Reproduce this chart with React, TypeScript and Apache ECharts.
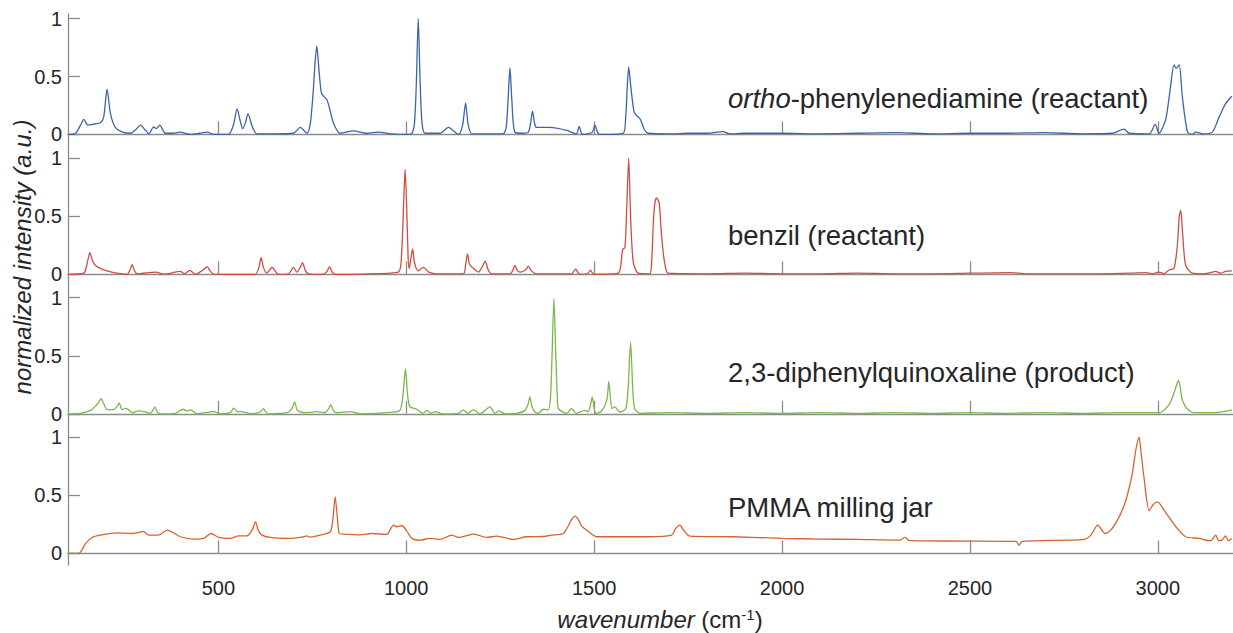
import React, { useEffect, useRef } from "react";
import * as echarts from "echarts";

// ---------- data ----------
const xTickValues = [500, 1000, 1500, 2000, 2500, 3000];
const yTickValues = [0, 0.5, 1];
const panelLabels = [
  "{i|ortho}-phenylenediamine (reactant)",
  "benzil (reactant)",
  "2,3-diphenylquinoxaline (product)",
  "PMMA milling jar",
];
const seriesNames = ["ortho-phenylenediamine", "benzil", "2,3-diphenylquinoxaline", "PMMA"];

const opdSpectrum: [number, number][] = [
  [101,0],[120,0.01],[135,0.09],[142,0.13],[153,0.08],[170,0.09],[186,0.1],[195,0.15],[204,0.39],[213,0.18],
  [226,0.06],[245,0.02],[266,0.01],[280,0.04],[293,0.08],[305,0.04],[315,0.005],[328,0.065],[335,0.05],[344,0.08],
  [359,0.01],[380,0.01],[399,0.02],[426,0],[450,0.01],[470,0.02],[488,0],[527,0],[540,0.08],[550,0.22],
  [558,0.12],[565,0.05],[572,0.1],[579,0.18],[590,0.07],[603,0.005],[650,0.005],[700,0.01],[718,0.06],[736,0.01],
  [745,0.1],[752,0.35],[757,0.6],[762,0.765],[768,0.55],[774,0.36],[780,0.33],[789,0.3],[798,0.2],[806,0.1],
  [824,0.01],[860,0.03],[895,0.01],[926,0.02],[960,0.005],[1001,0],[1015,0.01],[1022,0.1],[1027,0.45],[1032,1.0],
  [1037,0.45],[1042,0.1],[1050,0.01],[1090,0.01],[1112,0.06],[1139,0],[1150,0.08],[1158,0.27],[1165,0.08],[1175,0.005],
  [1220,0.005],[1258,0.005],[1266,0.06],[1271,0.3],[1276,0.576],[1281,0.3],[1289,0.02],[1310,0.01],[1325,0.02],[1331,0.1],
  [1336,0.2],[1342,0.09],[1347,0.06],[1382,0.06],[1427,0.035],[1453,0.005],[1460,0.07],[1467,0.005],[1475,0],[1495,0.02],
  [1502,0.08],[1509,0.02],[1515,0],[1577,0.01],[1584,0.15],[1588,0.4],[1592,0.58],[1598,0.4],[1606,0.2],[1613,0.164],
  [1623,0.13],[1634,0.04],[1644,0.01],[1700,0.005],[1750,0.01],[1800,0.01],[1843,0.025],[1860,0.005],[1900,0.01],[2000,0.01],
  [2100,0.005],[2200,0.01],[2308,0.015],[2400,0.005],[2500,0.01],[2600,0.01],[2700,0.015],[2800,0.005],[2880,0.01],[2910,0.045],
  [2924,0.01],[2977,0.005],[2993,0.086],[3003,0.01],[3021,0.13],[3034,0.42],[3043,0.6],[3049,0.57],[3057,0.6],[3065,0.33],
  [3079,0.02],[3092,0],[3101,0.02],[3120,0.005],[3145,0.02],[3163,0.15],[3181,0.27],[3197,0.33],
];

const benzilSpectrum: [number, number][] = [
  [101,0],[142,0.01],[150,0.08],[158,0.186],[165,0.12],[173,0.077],[190,0.045],[204,0.03],[230,0.01],[257,0],
  [265,0.04],[271,0.083],[277,0.03],[284,0.005],[333,0.02],[355,0],[399,0.025],[410,0.005],[424,0.035],[439,0],
  [460,0.04],[470,0.066],[478,0.03],[488,0],[598,0],[608,0.06],[614,0.143],[620,0.06],[629,0.01],[643,0.06],
  [660,0],[687,0.005],[700,0.06],[709,0.02],[718,0.06],[724,0.1],[732,0.03],[740,0.005],[780,0],[790,0.03],
  [796,0.066],[803,0.02],[811,0],[900,0.005],[979,0.02],[988,0.2],[993,0.6],[997,0.906],[1001,0.6],[1005,0.15],
  [1008,0.05],[1013,0.15],[1017,0.22],[1022,0.1],[1032,0.03],[1046,0.06],[1060,0.02],[1081,0.005],[1152,0.005],[1158,0.08],
  [1163,0.177],[1168,0.09],[1174,0.066],[1192,0.02],[1203,0.07],[1210,0.114],[1218,0.04],[1227,0.005],[1276,0.005],[1283,0.03],
  [1289,0.077],[1296,0.03],[1304,0.02],[1318,0.04],[1325,0.071],[1333,0.03],[1347,0.005],[1440,0.005],[1451,0.046],[1458,0.01],
  [1467,0],[1484,0.01],[1490,0.037],[1496,0.01],[1502,0],[1564,0.01],[1576,0.214],[1582,0.23],[1586,0.5],[1592,1.0],
  [1597,0.5],[1604,0.11],[1617,0.01],[1648,0.005],[1653,0.1],[1657,0.41],[1661,0.6],[1666,0.657],[1673,0.615],[1678,0.4],
  [1683,0.21],[1690,0.06],[1697,0.01],[1800,0.005],[1900,0.01],[2000,0.005],[2100,0.005],[2200,0.01],[2300,0.005],[2400,0.005],
  [2500,0.01],[2609,0.015],[2650,0.005],[2750,0.005],[2850,0.005],[2930,0.01],[2967,0.015],[2986,0.005],[3003,0.02],[3016,0.005],
  [3031,0.04],[3043,0.05],[3052,0.25],[3057,0.5],[3061,0.55],[3066,0.35],[3074,0.08],[3092,0.01],[3119,0.005],[3140,0.015],
  [3154,0.025],[3167,0.01],[3180,0.025],[3197,0.03],
];

const quinoxalineSpectrum: [number, number][] = [
  [101,0],[132,0.005],[160,0.03],[173,0.066],[182,0.1],[188,0.13],[195,0.09],[204,0.037],[222,0.037],[230,0.06],
  [236,0.094],[244,0.037],[255,0.048],[271,0.01],[288,0.025],[302,0.02],[319,0.005],[326,0.03],[331,0.06],[337,0.02],
  [346,0],[386,0.005],[406,0.04],[417,0.025],[427,0.035],[443,0],[488,0.02],[505,0],[532,0.01],[541,0.05],
  [551,0.02],[563,0.02],[585,0],[613,0.02],[620,0.045],[627,0.015],[634,0],[683,0.01],[695,0.04],[703,0.1],
  [709,0.04],[716,0.02],[736,0.01],[762,0.02],[784,0.01],[793,0.04],[799,0.08],[806,0.03],[813,0.01],[851,0.02],
  [878,0],[966,0.015],[984,0.035],[991,0.15],[998,0.385],[1004,0.15],[1010,0.06],[1028,0.04],[1044,0.005],[1056,0.03],
  [1065,0.005],[1077,0.02],[1095,0],[1139,0.005],[1152,0.035],[1164,0.005],[1179,0.035],[1196,0],[1223,0.06],[1236,0.005],
  [1247,0.025],[1263,0],[1294,0.005],[1316,0.03],[1324,0.08],[1329,0.145],[1334,0.07],[1340,0.025],[1351,0.005],[1365,0.04],
  [1378,0.035],[1384,0.15],[1388,0.5],[1393,0.99],[1398,0.5],[1402,0.15],[1405,0.045],[1427,0.005],[1440,0.045],[1453,0.005],
  [1475,0.03],[1484,0.02],[1490,0.07],[1495,0.145],[1500,0.05],[1505,0.005],[1520,0.025],[1534,0.12],[1539,0.28],[1544,0.12],
  [1548,0.045],[1555,0.06],[1568,0.015],[1584,0.045],[1590,0.2],[1597,0.615],[1603,0.2],[1608,0.045],[1622,0.005],[1700,0.01],
  [1800,0.005],[1900,0.01],[2000,0.005],[2100,0.01],[2200,0.005],[2300,0.01],[2400,0.005],[2500,0.01],[2600,0.005],[2700,0.01],
  [2800,0.005],[2900,0.01],[3003,0.01],[3030,0.08],[3043,0.18],[3050,0.25],[3055,0.287],[3060,0.22],[3065,0.12],[3079,0.04],
  [3097,0.01],[3144,0.01],[3175,0.02],[3197,0.035],
];

const pmmaSpectrum: [number, number][] = [
  [101,0],[129,0],[137,0.03],[147,0.086],[164,0.137],[186,0.157],[231,0.177],[271,0.171],[290,0.18],[300,0.19],
  [315,0.157],[341,0.157],[364,0.2],[399,0.143],[434,0.123],[461,0.129],[481,0.171],[501,0.137],[532,0.129],[554,0.151],
  [576,0.151],[590,0.2],[599,0.271],[606,0.2],[616,0.157],[638,0.137],[691,0.129],[727,0.143],[735,0.15],[745,0.14],
  [771,0.157],[798,0.186],[805,0.3],[811,0.486],[817,0.3],[822,0.171],[833,0.166],[877,0.16],[908,0.171],[948,0.163],
  [966,0.243],[975,0.229],[988,0.24],[1000,0.2],[1015,0.129],[1037,0.114],[1063,0.129],[1090,0.12],[1121,0.157],[1139,0.137],
  [1156,0.149],[1180,0.166],[1214,0.137],[1241,0.149],[1285,0.12],[1320,0.143],[1365,0.145],[1387,0.157],[1418,0.171],[1440,0.29],
  [1449,0.32],[1458,0.29],[1467,0.234],[1484,0.19],[1506,0.143],[1551,0.143],[1639,0.143],[1706,0.157],[1718,0.22],[1728,0.243],
  [1738,0.2],[1754,0.149],[1870,0.143],[2002,0.129],[2100,0.123],[2200,0.12],[2313,0.114],[2328,0.137],[2339,0.109],[2490,0.106],
  [2623,0.103],[2630,0.071],[2639,0.103],[2760,0.114],[2804,0.12],[2822,0.157],[2840,0.243],[2860,0.171],[2875,0.2],[2897,0.314],
  [2915,0.457],[2932,0.686],[2942,0.9],[2950,1.0],[2956,0.85],[2963,0.657],[2977,0.366],[2988,0.42],[2999,0.443],[3017,0.37],
  [3048,0.229],[3074,0.143],[3110,0.129],[3125,0.115],[3141,0.109],[3154,0.157],[3162,0.11],[3171,0.114],[3180,0.15],[3188,0.11],
  [3197,0.129],
];

const spectra = [opdSpectrum, benzilSpectrum, quinoxalineSpectrum, pmmaSpectrum];

// ---------- styling ----------
const FONT = '"Liberation Sans", Arial, Helvetica, sans-serif';
const TEXT = "#262626";
const AXIS = "#8c8c8c";
const lineColors = ["#3d63ab", "#cf4d40", "#78b948", "#d6632f"];
const gridTops = [14, 146.5, 286, 425.5];
const gridHeights = [132, 139.5, 139.5, 139.5];
const yMaxes = [1.04, 1.1, 1.1, 1.1];
const labelCentersY = [98, 235, 372, 507];

export default function App() {
  const ref = useRef<HTMLDivElement>(null);

  useEffect(() => {
    if (!ref.current) return;
    const chart = echarts.init(ref.current, undefined, { renderer: "svg" });

    const grids = gridTops.map((top, i) => ({
      left: 68,
      width: 1167,
      top,
      height: gridHeights[i],
      containLabel: false,
    }));

    const xAxes = gridTops.map((_, i) => ({
      type: "value",
      gridIndex: i,
      min: 100,
      max: 3200,
      axisLine: { show: true, lineStyle: { color: AXIS, width: 1.3 } },
      axisTick: {
        show: true,
        inside: true,
        length: 13,
        customValues: xTickValues,
        lineStyle: { color: AXIS, width: 1.3 },
      },
      axisLabel: {
        show: i === 3,
        customValues: xTickValues,
        fontSize: 20,
        color: TEXT,
        fontFamily: FONT,
        margin: 13,
        formatter: (v: number) => String(v),
      },
      splitLine: { show: false },
    }));

    const yAxes = gridTops.map((_, i) => ({
      type: "value",
      gridIndex: i,
      min: -0.1,
      max: yMaxes[i],
      axisLine: { show: true, lineStyle: { color: AXIS, width: 1.3 } },
      axisTick: {
        show: true,
        inside: true,
        length: 12,
        customValues: yTickValues,
        lineStyle: { color: AXIS, width: 1.3 },
      },
      axisLabel: {
        show: true,
        customValues: yTickValues,
        fontSize: 20,
        color: TEXT,
        fontFamily: FONT,
        margin: 6,
        formatter: (v: number) => String(v),
      },
      splitLine: { show: false },
    }));

    const series = spectra.map((data, i) => ({
      name: seriesNames[i],
      type: "line",
      xAxisIndex: i,
      yAxisIndex: i,
      data,
      showSymbol: false,
      symbol: "none",
      smooth: 0.25,
      lineStyle: { color: lineColors[i], width: 1.3 },
      itemStyle: { color: lineColors[i] },
      silent: true,
    }));

    const labelGraphics = panelLabels.map((t, i) => ({
      type: "text",
      x: 728,
      y: labelCentersY[i],
      style: {
        text: t,
        font: `27.5px ${FONT}`,
        fill: TEXT,
        textAlign: "left",
        textVerticalAlign: "middle",
        rich: {
          i: { font: `italic 27.5px ${FONT}`, fill: TEXT },
        },
      },
    }));

    chart.setOption({
      animation: false,
      backgroundColor: "#ffffff",
      grid: grids,
      xAxis: xAxes,
      yAxis: yAxes,
      series,
      graphic: [
        ...labelGraphics,
        {
          type: "text",
          x: 22,
          y: 257,
          rotation: Math.PI / 2,
          style: {
            text: "normalized intensity (a.u.)",
            font: `italic 24px ${FONT}`,
            fill: TEXT,
            textAlign: "center",
            textVerticalAlign: "middle",
          },
        },
        {
          type: "text",
          x: 660,
          y: 619,
          style: {
            text: "{i|wavenumber} (cm{s|-1})",
            font: `24px ${FONT}`,
            fill: TEXT,
            textAlign: "center",
            textVerticalAlign: "middle",
            rich: {
              i: { font: `italic 24px ${FONT}`, fill: TEXT },
              s: { font: `15px ${FONT}`, fill: TEXT, verticalAlign: "top" },
            },
          },
        },
      ],
    });

    return () => chart.dispose();
  }, []);

  return (
    <div
      ref={ref}
      style={{ position: "fixed", left: 0, top: 0, width: 1233, height: 633, background: "#fff" }}
    />
  );
}
